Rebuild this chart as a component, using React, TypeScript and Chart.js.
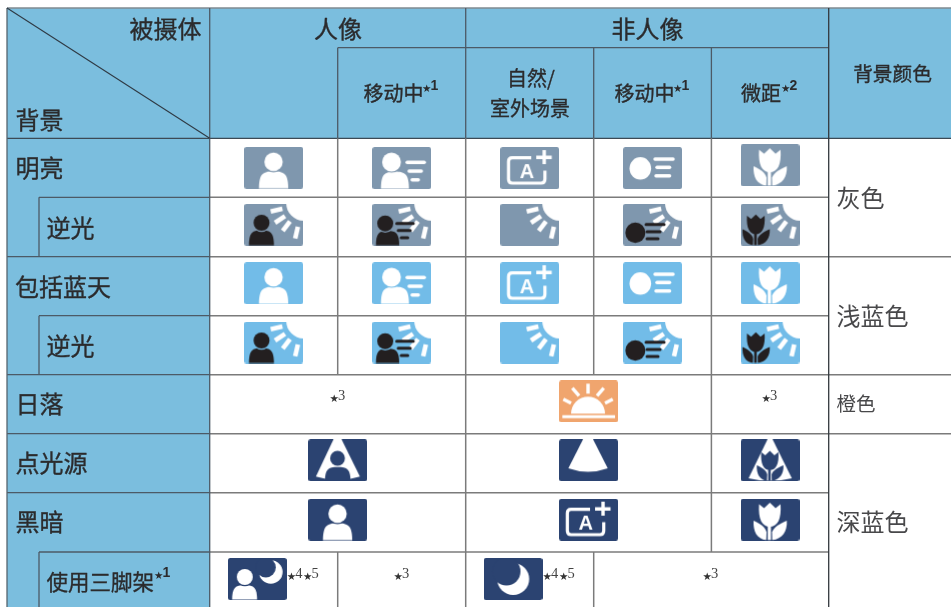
import React, { useEffect, useRef } from "react";
import { Chart, registerables } from "chart.js";

Chart.register(...registerables);

// ---- content ----
const cornerLabels = ["被摄体", "背景"];
const groupLabels = ["人像", "非人像"];
const subjectLabels = ["移动中", "自然/", "室外场景", "移动中", "微距"];
const subjectNotes = ["1", "", "", "1", "2"];
const colourHeader = "背景颜色";
const rowLabels = ["明亮", "逆光", "包括蓝天", "逆光", "日落", "点光源", "黑暗", "使用三脚架"];
const colourLabels = ["灰色", "浅蓝色", "橙色", "深蓝色"];
const rowTones = ["grey", "grey", "sky", "sky", "orange", "navy", "navy", "navy"];
const brightIcons = ["portrait", "portraitMove", "auto", "move", "macro"];
const backlitIcons = ["portraitSun", "portraitMoveSun", "sun", "moveSun", "macroSun"];
const spotIcons = ["portraitSpot", "spot", "macroSpot"];
const darkIcons = ["portrait", "auto", "macro"];
const tripodIcons = ["portraitMoon", "moon"];
const sunsetIcons = ["sunset"];

// ---- grid layout (axis units equal canvas pixels) ----
const X = [7, 39, 209.7, 337.7, 465.7, 593.7, 711.4, 828.7, 951];
const Y = [8, 47.7, 138.3, 197.3, 256.7, 315.7, 374.7, 433.7, 492.7, 552, 607];
const FONT = '"Noto Sans CJK SC"';
const TEXT = "#2b2b2d";
const toneColours: Record<string, string> = { grey: "#7f97ae", sky: "#72bce8", orange: "#f0a56e", navy: "#2b4371" };
const W = "#ffffff";
const K = "#231f20";

// ---- icon glyphs, 59 x 42 ----
type C = CanvasRenderingContext2D;
function bar(c: C, x1: number, y1: number, x2: number, y2: number, w: number, col: string, cap: CanvasLineCap = "round") {
  c.strokeStyle = col; c.lineWidth = w; c.lineCap = cap;
  c.beginPath(); c.moveTo(x1, y1); c.lineTo(x2, y2); c.stroke();
}
function disc(c: C, x: number, y: number, rx: number, ry: number, col: string) {
  c.fillStyle = col; c.beginPath(); c.ellipse(x, y, rx, ry, 0, 0, Math.PI * 2); c.fill();
}
function person(c: C, hx: number, hy: number, hr: number, x1: number, x2: number, top: number, col: string, bg: string) {
  const bottom = 42;
  const m = (x1 + x2) / 2, w = x2 - x1;
  c.fillStyle = col;
  c.beginPath();
  c.moveTo(x1, bottom);
  c.bezierCurveTo(x1, top + 2, x1 + w * 0.12, top - 1, m, top - 1);
  c.bezierCurveTo(x2 - w * 0.12, top - 1, x2, top + 2, x2, bottom);
  c.closePath(); c.fill();
  disc(c, hx, hy, hr + 1.2, hr + 1.2, bg);
  disc(c, hx, hy, hr, hr, col);
}
function sun(c: C) {
  disc(c, 59.5, -0.5, 17.5, 17.5, W);
  [[166.7, 27.4], [146, 28], [127, 28], [103, 29.7]].forEach(([a, r]) => {
    const t = (a * Math.PI) / 180;
    const ux = Math.cos(t), uy = Math.sin(t);
    const cx = 59 + ux * r, cy = uy * r;
    bar(c, cx - ux * 6, cy - uy * 6, cx + ux * 6, cy + uy * 6, 4.6, W, "butt");
  });
}
function tulip(c: C, cx: number, scale: number, bottom: number, col: string) {
  c.save();
  c.translate(cx, bottom);
  c.scale(scale, scale);
  c.translate(-29.3, -41);
  c.fillStyle = col;
  // flower head
  c.beginPath();
  c.moveTo(29.3, 27.5);
  c.bezierCurveTo(21.5, 27.5, 17.5, 20, 18.5, 5);
  c.lineTo(23.5, 9);
  c.lineTo(29.3, 3.5);
  c.lineTo(35, 9);
  c.lineTo(40, 5);
  c.bezierCurveTo(41, 20, 37, 27.5, 29.3, 27.5);
  c.closePath(); c.fill();
  // stem
  c.fillRect(27.2, 25, 3.2, 16);
  // leaves
  c.beginPath();
  c.moveTo(13, 21.5);
  c.bezierCurveTo(12.5, 32, 16, 39.5, 25.7, 41);
  c.lineTo(26, 33);
  c.bezierCurveTo(25, 28, 19, 24, 13, 21.5);
  c.closePath(); c.fill();
  c.beginPath();
  c.moveTo(46.3, 21.5);
  c.bezierCurveTo(46.8, 32, 42, 39.5, 31.7, 41);
  c.lineTo(31.5, 33);
  c.bezierCurveTo(33, 28, 40, 24, 46.3, 21.5);
  c.closePath(); c.fill();
  c.restore();
}
function wedge(c: C, tl: number, tr: number, lx: number, rx: number, ly: number, sag: number) {
  c.fillStyle = W;
  c.beginPath();
  c.moveTo(tl, 0); c.lineTo(tr, 0); c.lineTo(rx, ly);
  c.quadraticCurveTo((lx + rx) / 2, ly + sag * 2, lx, ly);
  c.closePath(); c.fill();
}
function crescent(c: C, ox: number, oy: number, or: number, ix: number, iy: number, ir: number, bg: string) {
  disc(c, ox, oy, or, or, W);
  disc(c, ix, iy, ir, ir, bg);
}
function drawGlyph(c: C, kind: string, bg: string) {
  switch (kind) {
    case "portrait":
      person(c, 29.3, 15, 9.2, 14.7, 44, 25.5, W, bg); break;
    case "portraitMove":
      person(c, 19.3, 15, 9.4, 8.7, 36.7, 25.5, W, bg);
      bar(c, 35, 15.3, 52, 15.3, 3.6, W); bar(c, 37, 24, 49, 24, 3.6, W); bar(c, 40, 32.7, 46, 32.7, 3.6, W);
      break;
    case "auto":
      c.strokeStyle = W; c.lineWidth = 3.2; c.lineCap = "butt";
      c.beginPath();
      c.moveTo(31, 10.6); c.lineTo(12, 10.6); c.quadraticCurveTo(8.3, 10.6, 8.3, 14.5);
      c.lineTo(8.3, 32); c.quadraticCurveTo(8.3, 36, 12, 36); c.lineTo(41, 36);
      c.quadraticCurveTo(44.7, 36, 44.7, 32); c.lineTo(44.7, 23.5); c.stroke();
      bar(c, 36, 10.3, 51.5, 10.3, 3.4, W, "butt"); bar(c, 44, 3, 44, 17, 3.4, W, "butt");
      c.fillStyle = W; c.font = 'bold 20px "Liberation Sans"'; c.textAlign = "center"; c.textBaseline = "middle";
      c.fillText("A", 26.8, 25);
      break;
    case "move":
      disc(c, 17.3, 21.3, 10.8, 11.2, W);
      bar(c, 32, 12, 50, 12, 3.5, W); bar(c, 34, 20.3, 46.5, 20.3, 3.5, W); bar(c, 33, 28.7, 46.5, 28.7, 3.5, W);
      break;
    case "macro":
      tulip(c, 29.3, 1, 41.5, W); break;
    case "portraitSun":
      sun(c); person(c, 17.3, 19, 8, 4.7, 29.7, 27.5, K, bg); break;
    case "portraitMoveSun":
      sun(c); person(c, 13, 19.7, 8, 3.7, 27, 28, K, bg);
      bar(c, 24.5, 19.7, 41, 19.7, 3, K); bar(c, 26, 26.7, 38, 26.7, 3, K); bar(c, 29, 34, 35.5, 34, 3, K);
      break;
    case "sun":
      sun(c); break;
    case "moveSun":
      sun(c); disc(c, 12.3, 29, 10, 10.2, K);
      bar(c, 23, 20.7, 41, 20.7, 3, K); bar(c, 24, 28, 37, 28, 3, K); bar(c, 24, 35, 35, 35, 3, K);
      break;
    case "macroSun":
      sun(c); tulip(c, 15.3, 0.82, 41.5, K); break;
    case "sunset":
      c.fillStyle = W; c.beginPath(); c.arc(29, 33.3, 17, Math.PI, 0); c.closePath(); c.fill();
      bar(c, 3.3, 36.2, 56, 36.2, 3, W, "butt");
      bar(c, 29, 3.3, 29, 13.3, 3.4, W, "butt");
      bar(c, 13.3, 7.7, 20, 15.3, 3.4, W, "butt"); bar(c, 44.7, 7.7, 38, 15.3, 3.4, W, "butt");
      bar(c, 4.3, 18.7, 12, 22.7, 3.4, W, "butt"); bar(c, 53.7, 18.7, 46, 22.7, 3.4, W, "butt");
      break;
    case "spot":
      wedge(c, 24, 34, 9.3, 48.7, 29, 3.5); break;
    case "portraitSpot":
      wedge(c, 25.3, 33.3, 7.7, 51.7, 37.3, 3.5);
      person(c, 29.3, 19, 7.4, 16.7, 42.3, 28.5, bg, W); break;
    case "macroSpot":
      wedge(c, 27, 32, 8, 51.3, 39, 2.5);
      tulip(c, 29.3, 0.8, 41.5, bg); break;
    case "portraitMoon":
      person(c, 17, 19, 8, 4.3, 29.3, 28, W, bg);
      crescent(c, 43, 14, 11.8, 38, 9.5, 10, bg); break;
    case "moon":
      crescent(c, 29.7, 21, 16, 23, 13.5, 14, bg); break;
  }
}
const iconCache = new Map<string, HTMLCanvasElement>();
function icon(kind: string, tone: string): HTMLCanvasElement {
  const key = kind + tone;
  const hit = iconCache.get(key);
  if (hit) return hit;
  const cv = document.createElement("canvas");
  cv.width = 59; cv.height = 42;
  const c = cv.getContext("2d") as C;
  const bg = toneColours[tone];
  c.fillStyle = bg;
  c.beginPath(); c.roundRect(0, 0, 59, 42, 2.5); c.fill();
  c.save();
  c.beginPath(); c.rect(0, 0, 59, 41.6); c.clip();
  drawGlyph(c, kind, bg);
  c.restore();
  iconCache.set(key, cv);
  return cv;
}

// ---- building the points ----
type P = { x: number; y: number; kind: string; tone: string };
const rowCentre = (r: number) => (Y[r + 2] + Y[r + 3]) / 2;
const ICON_LIFT = [0, 2.3, 3, 2.7, 2.8, 2.9, 2.7, 0.5];
function place(row: number, kinds: string[], spans: [number, number][], lifts: number[] = []): P[] {
  return kinds.map((kind, i) => ({
    x: (X[spans[i][0]] + X[spans[i][1]]) / 2,
    y: rowCentre(row) - ICON_LIFT[row] - (lifts[i] || 0),
    kind,
    tone: rowTones[row],
  }));
}
const five: [number, number][] = [[2, 3], [3, 4], [4, 5], [5, 6], [6, 7]];
const three: [number, number][] = [[2, 4], [4, 6], [6, 7]];
const points: P[] = [
  ...place(0, brightIcons, five, [0, -0.3, -0.3, -0.3, 2.6]),
  ...place(1, backlitIcons, five),
  ...place(2, brightIcons, five),
  ...place(3, backlitIcons, five),
  ...place(4, sunsetIcons, [[4, 6]]),
  ...place(5, spotIcons, three),
  ...place(6, darkIcons, three),
  ...place(7, tripodIcons, [[2, 3], [4, 5]]).map((p, i) => ({ ...p, x: p.x - (i === 0 ? 16.4 : 16.7) })),
];

const tablePlugin = {
  id: "tablePlugin",
  beforeDatasetsDraw(chart: any) {
    const { ctx, scales } = chart;
    const px = (v: number) => scales.x.getPixelForValue(v);
    const py = (v: number) => scales.y.getPixelForValue(v);
    ctx.save();
    ctx.fillStyle = "#ffffff";
    ctx.fillRect(0, 0, 951, 607);
    ctx.fillStyle = "#7bbede";
    ctx.fillRect(px(X[0]), py(Y[0]), px(X[2]) - px(X[0]), py(Y[10]) - py(Y[0]));
    ctx.fillRect(px(X[2]), py(Y[0]), px(X[8]) - px(X[2]), py(Y[2]) - py(Y[0]));
    const h = (a: number, b: number, y: number, col: string, lw = 1.3) => {
      ctx.strokeStyle = col; ctx.lineWidth = lw; ctx.beginPath();
      ctx.moveTo(px(X[a]), py(Y[y])); ctx.lineTo(px(X[b]), py(Y[y])); ctx.stroke();
    };
    const v = (a: number, y1: number, y2: number, col: string, lw = 1.3) => {
      ctx.strokeStyle = col; ctx.lineWidth = lw; ctx.beginPath();
      ctx.moveTo(px(X[a]), py(Y[y1])); ctx.lineTo(px(X[a]), py(Y[y2])); ctx.stroke();
    };
    const dark = "#4c5a66", grey = "#7b7b7b";
    [3, 4, 5, 6, 7, 8, 9].forEach((r) => h(2, 7, r, grey, 1.5));
    [4, 6, 7].forEach((r) => h(7, 8, r, grey, 1.5));
    [4, 6, 7, 8].forEach((r) => h(0, 2, r, dark));
    [3, 5, 9].forEach((r) => h(1, 2, r, dark));
    h(0, 8, 0, "#7f8a90", 1.5);
    h(3, 7, 1, dark);
    h(0, 8, 2, "#3c4a55");
    v(0, 0, 10, "#56646e");
    v(2, 0, 10, dark);
    v(3, 1, 2, dark); v(3, 2, 6, grey, 1.5); v(3, 9, 10, grey, 1.5);
    v(4, 0, 2, dark); v(4, 2, 10, grey, 1.5);
    v(5, 1, 2, dark); v(5, 2, 6, grey, 1.5); v(5, 9, 10, grey, 1.5);
    v(6, 1, 2, dark); v(6, 2, 9, grey, 1.5);
    v(7, 0, 10, "#33383d");
    [[3, 4], [5, 6], [9, 10]].forEach(([a, b]) => v(1, a, b, dark));
    ctx.strokeStyle = "#2f3a44"; ctx.lineWidth = 1.1; ctx.beginPath();
    ctx.moveTo(px(X[0]), py(Y[0])); ctx.lineTo(px(X[2]), py(Y[2])); ctx.stroke();
    ctx.restore();
  },
  afterDatasetsDraw(chart: any) {
    const { ctx, scales } = chart;
    const px = (v: number) => scales.x.getPixelForValue(v);
    const py = (v: number) => scales.y.getPixelForValue(v);
    ctx.save();
    ctx.textBaseline = "middle";
    const t = (s: string, x: number, y: number, size: number, align: CanvasTextAlign = "left", col = TEXT, family = FONT, weight = "400", heavy = 0) => {
      ctx.font = `${weight} ${size}px ${family}`;
      ctx.fillStyle = col; ctx.textAlign = align;
      ctx.fillText(s, px(x), py(y));
      if (heavy > 0) {
        ctx.strokeStyle = col; ctx.lineWidth = heavy; ctx.lineJoin = "round";
        ctx.strokeText(s, px(x), py(y));
      }
    };
    const head = (s: string, x: number, y: number, size: number, align: CanvasTextAlign = "left") =>
      t(s, x, y, size, align, TEXT, FONT, "400", 0.35);
    const supSans = (x: number, y: number, n: string) => {
      t("★", x - 1, y + 1, 10.5, "left", TEXT, '"DejaVu Sans"');
      t(n, x + 7.5, y - 2, 14, "left", TEXT, '"Liberation Sans"', "bold");
    };
    const note = (x: number, y: number, n: string) => {
      t("★", x - 0.5, y + 2.2, 10.5, "left", "#333333", '"DejaVu Sans"');
      t(n, x + 8, y - 1, 14.5, "left", "#444444", '"Liberation Serif"');
    };
    head(cornerLabels[0], 201.5, 29, 24, "right");
    head(cornerLabels[1], 15.5, 119.5, 24);
    head(groupLabels[0], 338, 28.5, 24, "center");
    head(groupLabels[1], 647.5, 28.5, 24, "center");
    const sub = 20;
    head(subjectLabels[0], 363.5, 93.5, sub); supSans(423, 88, subjectNotes[0]);
    head(subjectLabels[1], 507, 78, sub);
    head(subjectLabels[2], 530, 108.5, sub, "center");
    head(subjectLabels[3], 614.5, 93.5, sub); supSans(674, 88, subjectNotes[3]);
    head(subjectLabels[4], 741, 93.5, sub); supSans(782, 88.5, subjectNotes[4]);
    head(colourHeader, 892.5, 74, 19.7, "center");
    head(rowLabels[0], 15.5, 168, 24);
    head(rowLabels[1], 46.5, 227.5, 24);
    head(rowLabels[2], 15, 286.5, 24);
    head(rowLabels[3], 46.5, 345.5, 24);
    head(rowLabels[4], 15.5, 404, 24);
    head(rowLabels[5], 15.5, 463, 24);
    head(rowLabels[6], 15.5, 522, 24);
    head(rowLabels[7], 46.5, 581.5, 21.5);
    supSans(155, 575, "1");
    const soft = "#48484a";
    t(colourLabels[0], 836.5, 197.5, 24, "left", soft);
    t(colourLabels[1], 836.5, 316, 24, "left", soft);
    t(colourLabels[2], 836.5, 404, 19.5, "left", soft);
    t(colourLabels[3], 836.5, 522, 24, "left", soft);
    note(330, 397.5, "3");
    note(762, 397.5, "3");
    note(394, 575, "3");
    note(703, 575, "3");
    note(287.3, 575, "4"); note(303.5, 575, "5");
    note(543, 575, "4"); note(559.5, 575, "5");
    ctx.restore();
  },
};

export default function App() {
  const ref = useRef<HTMLCanvasElement>(null);
  useEffect(() => {
    if (!ref.current) return;
    const chart = new Chart(ref.current, {
      type: "scatter",
      data: {
        datasets: [
          {
            label: "场景图标",
            data: points as any,
            pointRadius: 1,
            pointHoverRadius: 1,
            pointStyle: (ctx: any) => {
              const p = ctx.raw as P;
              return p ? icon(p.kind, p.tone) : "circle";
            },
            clip: false as any,
          },
        ],
      },
      options: {
        animation: false,
        responsive: false,
        devicePixelRatio: 1,
        layout: { padding: 0, autoPadding: false },
        events: [],
        plugins: { legend: { display: false }, tooltip: { enabled: false }, title: { display: false } },
        scales: {
          x: { type: "linear", min: 0, max: 951, display: false },
          y: { type: "linear", min: 0, max: 607, reverse: true, display: false },
        },
      },
      plugins: [tablePlugin],
    });
    return () => chart.destroy();
  }, []);
  return (
    <div style={{ position: "fixed", left: 0, top: 0, width: 951, height: 607, overflow: "hidden", background: "#fff" }}>
      <canvas ref={ref} width={951} height={607} style={{ display: "block", width: 951, height: 607 }} />
    </div>
  );
}
